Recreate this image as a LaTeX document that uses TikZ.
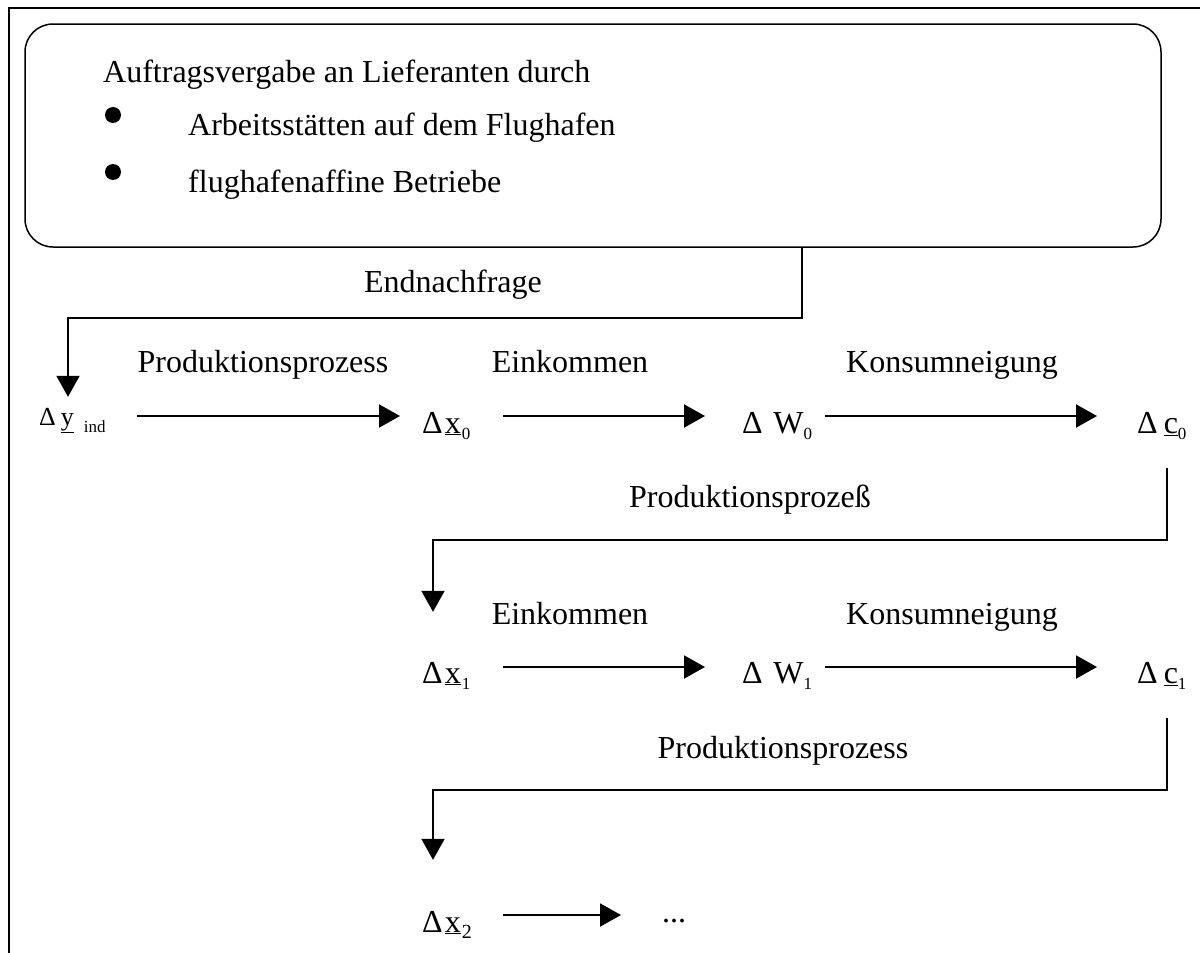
\documentclass[tikz,border=0pt]{standalone}
\usepackage{fontspec}
\setmainfont{Liberation Serif}
\usetikzlibrary{arrows.meta}
\newcommand{\qsub}[1]{\raisebox{-6pt}{\fontsize{17}{17}\selectfont #1}}
\begin{document}
\begin{tikzpicture}[x=1pt,y=-1pt,
  frame/.style={line width=2.5pt},
  bubble/.style={draw, line width=1.5pt, rounded corners=28pt},
  lbl/.style={anchor=mid, inner sep=0pt, font=\fontsize{32}{38}\selectfont},
  boxtext/.style={anchor=base west, inner sep=0pt, font=\fontsize{32}{38}\selectfont},
  bulletdot/.style={circle, fill, inner sep=0pt, minimum size=16pt},
  qty/.style={anchor=base west, inner sep=0pt, text height=22pt, text depth=8pt,
              align=left, font=\fontsize{32}{38}\selectfont},
  link/.style={line width=2pt, -{Triangle[length=21pt,width=23pt]}},
]
\useasboundingbox (0,0) rectangle (1200,953);

% outer frame (top and left edges)
\draw[frame] (9,953) -- (9,8) -- (1200,8);

% order box
\node[bubble, minimum width=1136pt, minimum height=223pt] (box) at (593,135.5) {};
\node[boxtext] (t0) at (103,82) {Auftragsvergabe an Lieferanten durch};
\node[bulletdot] (b1) at (113,115) {};
\node[bulletdot] (b2) at (113,172) {};
\node[boxtext] (t1) at (188,135) {Arbeitsstätten auf dem Flughafen};
\node[boxtext] (t2) at (188,192) {flughafenaffine Betriebe};

% quantities
\node[qty, text width=71pt] (dy) at (39,425)
  {{\fontsize{26}{26}\selectfont Δ\hspace{5pt}\underline{y}}\hspace{10pt}\raisebox{-7pt}{\fontsize{17}{17}\selectfont ind}};
\node[qty, text width=56pt] (dx0) at (422,433) {Δ\hspace{2pt}\underline{x}\hspace{1pt}\qsub{0}};
\node[qty, text width=70pt] (dW0) at (742,433) {Δ W\qsub{0}};
\node[qty, text width=50pt] (dc0) at (1137,433) {Δ\hspace{6pt}\underline{c}\qsub{0}};

\node[qty, text width=56pt] (dx1) at (422,683) {Δ\hspace{2pt}\underline{x}\hspace{1pt}\qsub{1}};
\node[qty, text width=70pt] (dW1) at (742,683) {Δ W\qsub{1}};
\node[qty, text width=50pt] (dc1) at (1137,683) {Δ\hspace{6pt}\underline{c}\qsub{1}};

\node[qty, text width=56pt] (dx2) at (422,932) {Δ\hspace{2pt}\underline{x}\hspace{1pt}\raisebox{-6pt}{\fontsize{20}{20}\selectfont 2}};
\node[qty, text width=20pt] (dots) at (662,922) {...};

% labels
\node[lbl] (l0) at (453,290) {Endnachfrage};
\node[lbl] (l1) at (263,370) {Produktionsprozess};
\node[lbl] (l2) at (570,370) {Einkommen};
\node[lbl] (l3) at (952,370) {Konsumneigung};
\node[lbl] (l4) at (750,505) {Produktionsprozeß};
\node[lbl] (l5) at (570,622) {Einkommen};
\node[lbl] (l6) at (952,622) {Konsumneigung};
\node[lbl] (l7) at (783,756) {Produktionsprozess};

% bend points and arrow rows
\coordinate (k1) at (802,318);
\coordinate (k2) at (68,318);
\coordinate (k3) at (1167,540);
\coordinate (k4) at (433,540);
\coordinate (k5) at (1167,790);
\coordinate (k6) at (433,790);
\coordinate (r1) at (0,416);
\coordinate (r2) at (0,667);
\coordinate (r3) at (0,915);

% final demand into the first quantity
\draw[link, shorten >=6pt] (box.south -| k1) -- (k1) -- (k2) -- (k2 |- dy.north);

% row 1
\draw[link, shorten <=27pt, shorten >=22pt] (dy.east |- r1) -- (dx0.west |- r1);
\draw[link, shorten <=25pt, shorten >=37pt] (dx0.east |- r1) -- (dW0.west |- r1);
\draw[link, shorten <=13pt, shorten >=40pt] (dW0.east |- r1) -- (dc0.west |- r1);

% feedback to row 2
\draw[link, shorten <=27pt, shorten >=49pt] (dc0.south -| k3) -- (k3) -- (k4) -- (k4 |- dx1.north);

% row 2
\draw[link, shorten <=25pt, shorten >=37pt] (dx1.east |- r2) -- (dW1.west |- r2);
\draw[link, shorten <=13pt, shorten >=40pt] (dW1.east |- r2) -- (dc1.west |- r2);

% feedback to row 3
\draw[link, shorten <=27pt, shorten >=50pt] (dc1.south -| k5) -- (k5) -- (k6) -- (k6 |- dx2.north);

% row 3
\draw[link, shorten <=25pt, shorten >=41pt] (dx2.east |- r3) -- (dots.west |- r3);
\end{tikzpicture}
\end{document}
